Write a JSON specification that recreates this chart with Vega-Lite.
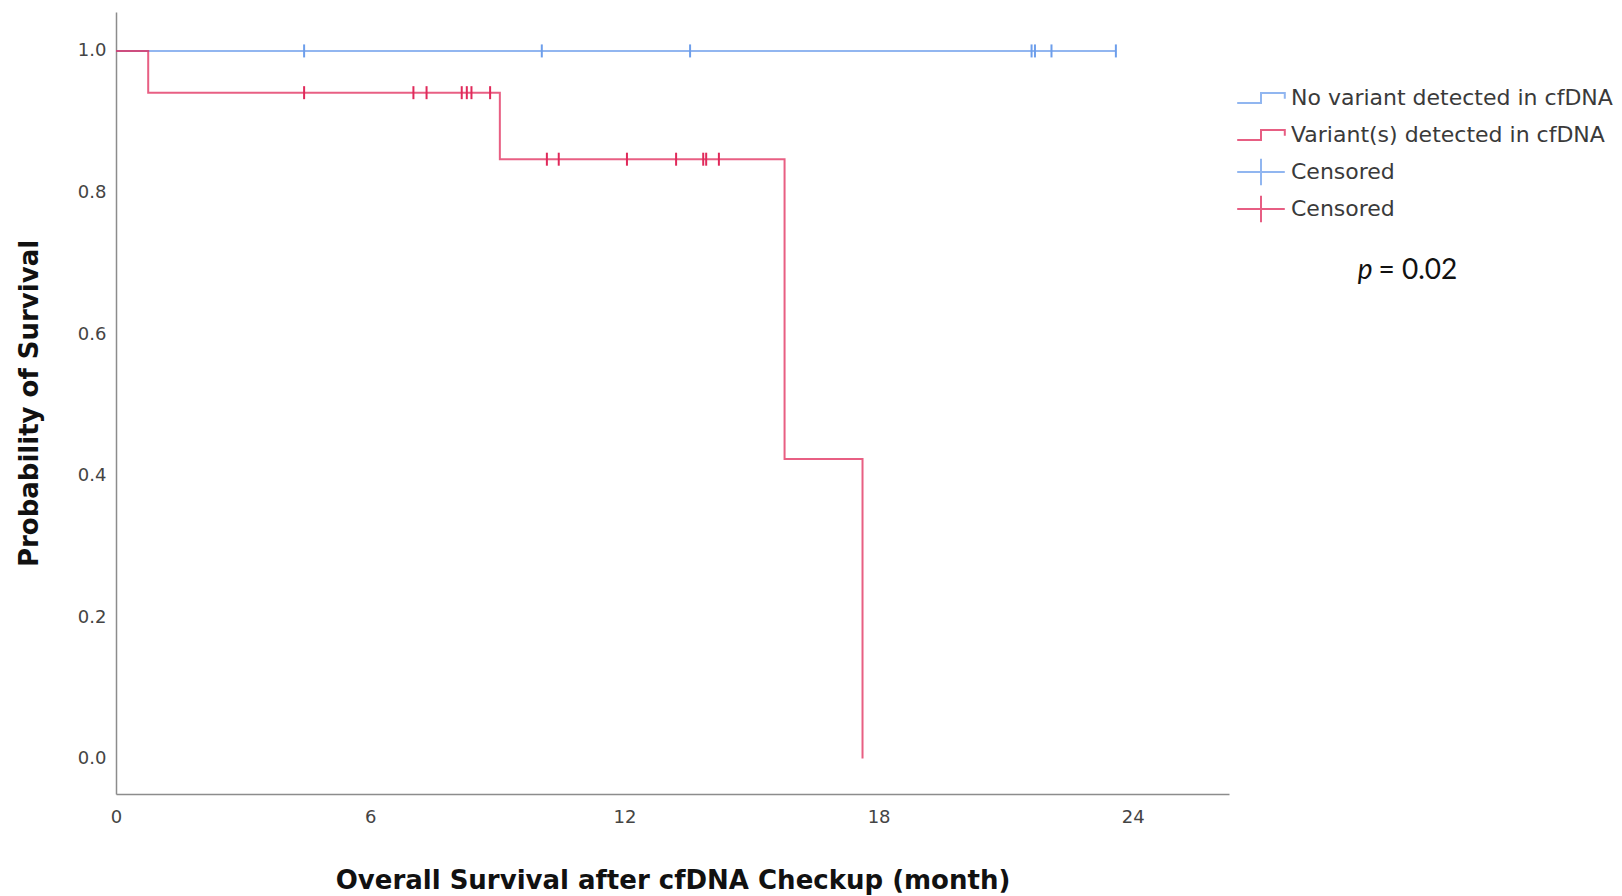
{
  "$schema": "https://vega.github.io/schema/vega-lite/v6.json",
  "width": 1113,
  "height": 782,
  "autosize": {"type": "none"},
  "padding": {"left": 116, "top": 12, "right": 393, "bottom": 102},
  "background": "white",
  "config": {
    "view": {"stroke": null},
    "font": "DejaVu Sans"
  },
  "datasets": {
    "curves": [
      {"group": "No variant detected in cfDNA", "month": 0, "survival": 1},
      {"group": "No variant detected in cfDNA", "month": 23.6, "survival": 1},
      {"group": "Variant(s) detected in cfDNA", "month": 0, "survival": 1},
      {"group": "Variant(s) detected in cfDNA", "month": 0.76, "survival": 0.941},
      {"group": "Variant(s) detected in cfDNA", "month": 9.06, "survival": 0.847},
      {"group": "Variant(s) detected in cfDNA", "month": 15.78, "survival": 0.4235},
      {"group": "Variant(s) detected in cfDNA", "month": 17.62, "survival": 0}
    ],
    "censored": [
      {"group": "Censored (no variant)", "month": 4.44, "survival": 1},
      {"group": "Censored (no variant)", "month": 10.05, "survival": 1},
      {"group": "Censored (no variant)", "month": 13.55, "survival": 1},
      {"group": "Censored (no variant)", "month": 21.61, "survival": 1},
      {"group": "Censored (no variant)", "month": 21.69, "survival": 1},
      {"group": "Censored (no variant)", "month": 22.08, "survival": 1},
      {"group": "Censored (no variant)", "month": 23.6, "survival": 1},
      {"group": "Censored (variant)", "month": 4.44, "survival": 0.941},
      {"group": "Censored (variant)", "month": 7.02, "survival": 0.941},
      {"group": "Censored (variant)", "month": 7.33, "survival": 0.941},
      {"group": "Censored (variant)", "month": 8.16, "survival": 0.941},
      {"group": "Censored (variant)", "month": 8.28, "survival": 0.941},
      {"group": "Censored (variant)", "month": 8.39, "survival": 0.941},
      {"group": "Censored (variant)", "month": 8.83, "survival": 0.941},
      {"group": "Censored (variant)", "month": 10.17, "survival": 0.847},
      {"group": "Censored (variant)", "month": 10.45, "survival": 0.847},
      {"group": "Censored (variant)", "month": 12.06, "survival": 0.847},
      {"group": "Censored (variant)", "month": 13.22, "survival": 0.847},
      {"group": "Censored (variant)", "month": 13.86, "survival": 0.847},
      {"group": "Censored (variant)", "month": 13.93, "survival": 0.847},
      {"group": "Censored (variant)", "month": 14.23, "survival": 0.847}
    ],
    "note": [
      {"part": "p", "month": 29.31, "survival": 0.678},
      {"part": "= 0.02", "month": 29.8, "survival": 0.678}
    ]
  },
  "encoding": {
    "x": {
      "field": "month", "type": "quantitative",
      "scale": {"domain": [0, 26.27], "nice": false, "zero": false},
      "axis": {
        "title": "Overall Survival after cfDNA Checkup (month)",
        "values": [0, 6, 12, 18, 24],
        "grid": false, "ticks": false, "labelFlush": false,
        "domainColor": "#8c8c8c", "domainWidth": 1.5,
        "labelFont": "DejaVu Sans", "labelFontSize": 18, "labelColor": "#444444",
        "labelPadding": 14,
        "titleFont": "DejaVu Sans", "titleFontSize": 26, "titleFontWeight": "bold",
        "titleColor": "#111111", "titlePadding": 41
      }
    },
    "y": {
      "field": "survival", "type": "quantitative",
      "scale": {"domain": [-0.05, 1.055], "nice": false, "zero": false},
      "axis": {
        "title": "Probability of Survival",
        "values": [0, 0.2, 0.4, 0.6, 0.8, 1.0],
        "format": ".1f",
        "grid": false, "ticks": false, "labelFlush": false,
        "domainColor": "#8c8c8c", "domainWidth": 1.5,
        "labelFont": "DejaVu Sans", "labelFontSize": 18, "labelColor": "#444444",
        "labelPadding": 10,
        "titleFont": "DejaVu Sans", "titleFontSize": 26, "titleFontWeight": "bold",
        "titleColor": "#111111", "titlePadding": 35
      }
    }
  },
  "layer": [
    {
      "data": {"name": "curves"},
      "mark": {"type": "line", "interpolate": "step-after", "strokeWidth": 2, "opacity": 0.75},
      "encoding": {
        "color": {
          "field": "group", "type": "nominal",
          "scale": {
            "domain": ["No variant detected in cfDNA", "Variant(s) detected in cfDNA", "Censored (no variant)", "Censored (variant)"],
            "range": ["#6d9eeb", "#e0295a", "#6d9eeb", "#e0295a"]
          },
          "legend": {
            "title": null,
            "orient": "none",
            "legendX": 1120,
            "legendY": 71,
            "padding": 0,
            "gridAlign": "all",
            "symbolSize": 784,
            "symbolStrokeWidth": 2,
            "symbolFillColor": "transparent",
            "labelFont": "DejaVu Sans",
            "labelFontSize": 22,
            "labelColor": "#3a3a3a",
            "labelOffset": 15,
            "labelLimit": 0,
            "labelExpr": "indexof(datum.label, 'Censored') === 0 ? 'Censored' : datum.label",
            "rowPadding": 1,
            "symbolOffset": 10
          }
        }
      }
    },
    {
      "data": {"name": "censored"},
      "transform": [{"filter": "false"}],
      "mark": {"type": "point", "filled": false, "strokeWidth": 2},
      "encoding": {
        "color": {"field": "group", "type": "nominal"},
        "shape": {
          "field": "group", "type": "nominal",
          "scale": {
            "domain": ["No variant detected in cfDNA", "Variant(s) detected in cfDNA", "Censored (no variant)", "Censored (variant)"],
            "range": ["M-1.7,0.35H0V-0.35H1.7V0.05", "M-1.7,0.35H0V-0.35H1.7V0.05", "M-1.7,0H1.7M0,-0.95V0.95", "M-1.7,0H1.7M0,-0.95V0.95"]
          }
        }
      }
    },
    {
      "data": {"name": "censored"},
      "mark": {"type": "rule", "strokeWidth": 2, "yOffset": -6.5, "y2Offset": 6.5},
      "encoding": {
        "y2": {"field": "survival"},
        "color": {"field": "group", "type": "nominal"}
      }
    },
    {
      "data": {"name": "note"},
      "transform": [{"filter": "datum.part === 'p'"}],
      "mark": {"type": "text", "align": "left", "baseline": "alphabetic", "font": "Lato", "fontSize": 28, "fontStyle": "italic", "color": "#111111"},
      "encoding": {"text": {"field": "part"}}
    },
    {
      "data": {"name": "note"},
      "transform": [{"filter": "datum.part !== 'p'"}],
      "mark": {"type": "text", "align": "left", "baseline": "alphabetic", "font": "Lato", "fontSize": 28, "color": "#111111"},
      "encoding": {"text": {"field": "part"}}
    }
  ]
}
